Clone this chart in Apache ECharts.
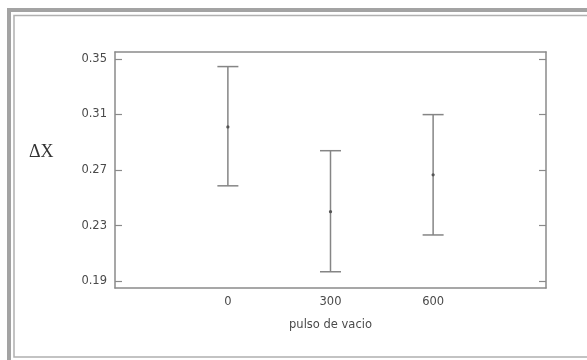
<!DOCTYPE html>
<html>
<head>
<meta charset="utf-8">
<script src="https://cdn.jsdelivr.net/npm/echarts@6/dist/echarts.min.js"></script>
<style>
html,body{margin:0;padding:0;background:#fff;}
#c{width:587px;height:360px;}
</style>
</head>
<body>
<div id="c"></div>
<script>
const categories = [0, 300, 600];
const means = [0.301, 0.240, 0.2665];
const lower = [0.2586, 0.1967, 0.2232];
const upper = [0.3445, 0.2839, 0.3099];
const yTicks = [0.19, 0.23, 0.27, 0.31, 0.35];
const xTicks = [0, 300, 600];

const data = categories.map((c, i) => [c, means[i], lower[i], upper[i]]);
const axisColor = '#8a8a8a';
const textColor = '#4a4a4a';
const font = '"DejaVu Sans", Verdana, sans-serif';

const chart = echarts.init(document.getElementById('c'), null, {renderer: 'canvas'});
chart.setOption({
  backgroundColor: '#fff',
  animation: false,
  grid: {left: 115, right: 41, top: 52, bottom: 72, containLabel: false},
  xAxis: [{
    type: 'value', min: -330, max: 930, position: 'bottom',
    axisLine: {show: true, lineStyle: {color: axisColor, width: 1.5}},
    axisTick: {show: false},
    splitLine: {show: false},
    axisLabel: {show: true, customValues: xTicks, margin: 8, color: textColor, fontSize: 11.5, fontFamily: font},
    name: 'pulso de vacio', nameLocation: 'middle', nameGap: 31,
    nameTextStyle: {color: textColor, fontSize: 11.5, fontFamily: font}
  }, {
    type: 'value', min: -330, max: 930, position: 'top',
    axisLine: {show: true, onZero: false, lineStyle: {color: axisColor, width: 1.5}},
    axisTick: {show: false}, axisLabel: {show: false}, splitLine: {show: false}
  }],
  yAxis: [{
    type: 'value', min: 0.185, max: 0.355, position: 'left',
    axisLine: {show: true, onZero: false, lineStyle: {color: axisColor, width: 1.5}},
    axisTick: {show: true, inside: true, length: 7, customValues: yTicks, lineStyle: {color: axisColor, width: 1.2}},
    splitLine: {show: false},
    axisLabel: {show: true, customValues: yTicks, margin: 8, color: textColor, fontSize: 11.5, fontFamily: font,
      formatter: v => v.toFixed(2)}
  }, {
    type: 'value', min: 0.185, max: 0.355, position: 'right',
    axisLine: {show: true, onZero: false, lineStyle: {color: axisColor, width: 1.5}},
    axisTick: {show: true, inside: true, length: 7, customValues: yTicks, lineStyle: {color: axisColor, width: 1.2}},
    splitLine: {show: false},
    axisLabel: {show: false}
  }],
  graphic: [
    {type: 'rect', shape: {x: 9, y: 10, width: 600, height: 400}, style: {fill: 'none', stroke: '#a3a3a3', lineWidth: 4}, silent: true},
    {type: 'rect', shape: {x: 14, y: 15.5, width: 590, height: 341.5}, style: {fill: 'none', stroke: '#b0b0b0', lineWidth: 1.5}, silent: true},
    {type: 'text', left: 29, top: 143, style: {text: 'ΔX', fill: '#333', fontSize: 18, fontFamily: '"Liberation Serif", "Times New Roman", serif'}}
  ],
  series: [{
    type: 'custom',
    xAxisIndex: 0, yAxisIndex: 0,
    data: data,
    encode: {x: 0, y: [1, 2, 3]},
    renderItem: function (params, api) {
      const x = api.value(0);
      const pm = api.coord([x, api.value(1)]);
      const pl = api.coord([x, api.value(2)]);
      const pu = api.coord([x, api.value(3)]);
      const hw = 10.5;
      const ls = {stroke: '#858585', lineWidth: 1.5};
      return {
        type: 'group',
        children: [
          {type: 'line', shape: {x1: pl[0], y1: pl[1], x2: pu[0], y2: pu[1]}, style: ls},
          {type: 'line', shape: {x1: pu[0] - hw, y1: pu[1], x2: pu[0] + hw, y2: pu[1]}, style: ls},
          {type: 'line', shape: {x1: pl[0] - hw, y1: pl[1], x2: pl[0] + hw, y2: pl[1]}, style: ls},
          {type: 'circle', shape: {cx: pm[0], cy: pm[1], r: 1.6}, style: {fill: '#555'}}
        ]
      };
    }
  }]
});
</script>
</body>
</html>
